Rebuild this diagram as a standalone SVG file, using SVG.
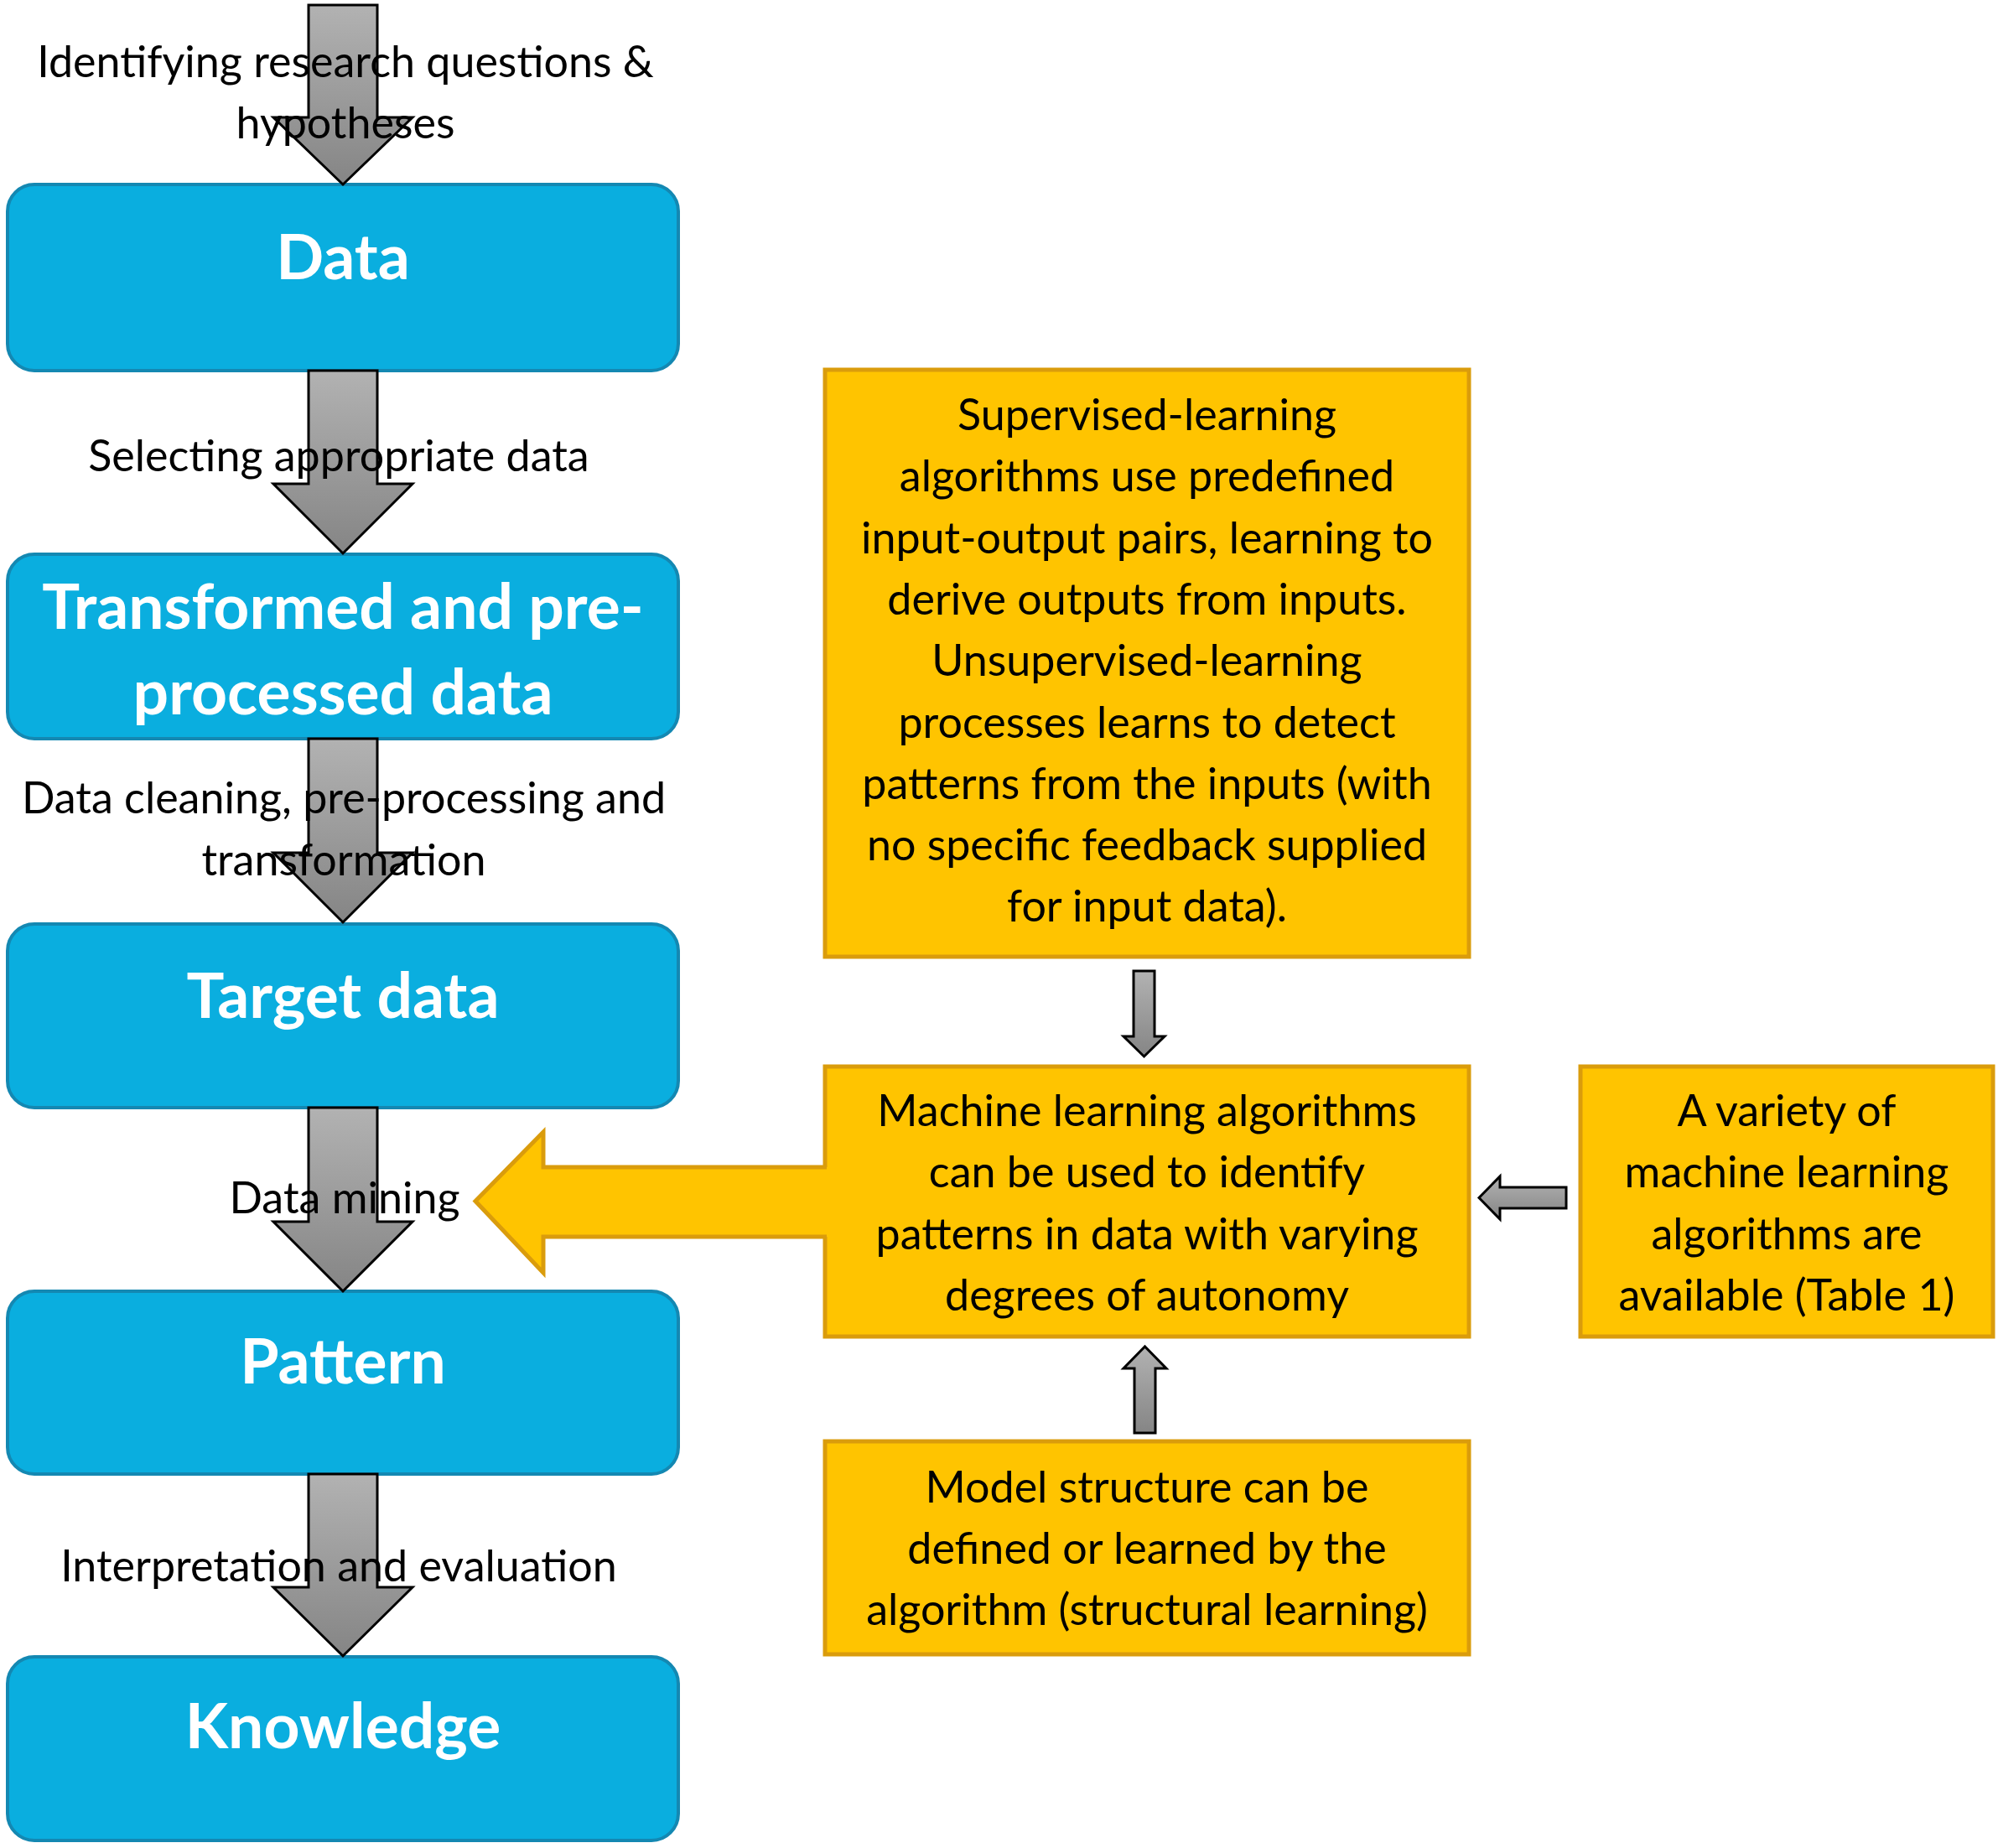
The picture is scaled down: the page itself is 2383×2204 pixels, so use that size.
<svg xmlns="http://www.w3.org/2000/svg" width="2383" height="2204" viewBox="0 0 2383 2204">
<defs>
<linearGradient id="gray" x1="0" y1="0" x2="0" y2="1">
<stop offset="0" stop-color="#B2B2B2"/>
<stop offset="1" stop-color="#858585"/>
</linearGradient>
<style>
.blue{fill:#0AAEDF;stroke:#1488B2;stroke-width:4}
.gold{fill:#FFC400;stroke:#DA9C0C;stroke-width:5}
.garrow{fill:url(#gray);stroke:#000;stroke-width:3;stroke-linejoin:miter}
.title{font-family:Lato,"Liberation Sans",sans-serif;font-weight:bold;font-size:75px;fill:#fff;text-anchor:middle}
.lbl{font-family:Lato,"Liberation Sans",sans-serif;font-size:52px;fill:#000;text-anchor:middle}
</style>
</defs>
<rect width="2383" height="2204" fill="#fff"/>

<g id="node-data"><rect class="blue" x="9" y="220" width="800" height="222" rx="32"/><text class="title" x="409" y="333">Data</text></g>
<g id="node-transformed"><rect class="blue" x="9" y="661" width="800" height="220" rx="32"/><text class="title" x="409" y="750">Transformed and pre-</text><text class="title" x="409" y="852">processed data</text></g>
<g id="node-target"><rect class="blue" x="9" y="1102" width="800" height="219" rx="32"/><text class="title" x="409" y="1214">Target data</text></g>
<g id="node-pattern"><rect class="blue" x="9" y="1540" width="800" height="218" rx="32"/><text class="title" x="409" y="1650">Pattern</text></g>
<g id="node-knowledge"><rect class="blue" x="9" y="1976" width="800" height="219" rx="32"/><text class="title" x="409" y="2085">Knowledge</text></g>

<g id="node-supervised"><rect class="gold" x="984" y="441" width="768" height="700"/>
<text class="lbl" x="1368"><tspan x="1368" y="513">Supervised-learning</tspan><tspan x="1368" y="586">algorithms use predefined</tspan><tspan x="1368" y="660">input-output pairs, learning to</tspan><tspan x="1368" y="733">derive outputs from inputs.</tspan><tspan x="1368" y="806">Unsupervised-learning</tspan><tspan x="1368" y="880">processes learns to detect</tspan><tspan x="1368" y="953">patterns from the inputs (with</tspan><tspan x="1368" y="1026">no specific feedback supplied</tspan><tspan x="1368" y="1099">for input data).</tspan></text></g>

<g id="node-ml"><rect class="gold" x="984" y="1272" width="768" height="322"/>
<text class="lbl" x="1368"><tspan x="1368" y="1343">Machine learning algorithms</tspan><tspan x="1368" y="1416">can be used to identify</tspan><tspan x="1368" y="1490">patterns in data with varying</tspan><tspan x="1368" y="1563">degrees of autonomy</tspan></text></g>

<g id="node-variety"><rect class="gold" x="1885" y="1272" width="492" height="322"/>
<text class="lbl" x="2131"><tspan x="2131" y="1343">A variety of</tspan><tspan x="2131" y="1416">machine learning</tspan><tspan x="2131" y="1490">algorithms are</tspan><tspan x="2131" y="1563">available (Table 1)</tspan></text></g>

<g id="node-structure"><rect class="gold" x="984" y="1719" width="768" height="254"/>
<text class="lbl" x="1368"><tspan x="1368" y="1792">Model structure can be</tspan><tspan x="1368" y="1865">defined or learned by the</tspan><tspan x="1368" y="1938">algorithm (structural learning)</tspan></text></g>

<g id="connectors">
<path class="garrow" d="M368,6 H450 V140 H492 L409,220 L326,140 H368 Z"/>
<path class="garrow" d="M368,442 H450 V577 H492 L409,660 L326,577 H368 Z"/>
<path class="garrow" d="M368,881 H450 V1017 H492 L409,1100 L326,1017 H368 Z"/>
<path class="garrow" d="M368,1321 H450 V1457 H492 L409,1540 L326,1457 H368 Z"/>
<path class="garrow" d="M368,1758 H450 V1893 H492 L409,1975 L326,1893 H368 Z"/>

<path class="garrow" d="M1352,1158 H1377 V1236 H1389 L1364.5,1260 L1340,1236 H1352 Z"/>
<path class="garrow" d="M1353,1709 H1378 V1632 H1391 L1365.5,1606 L1340,1632 H1353 Z"/>
<path class="garrow" d="M1868,1416 V1441 H1789 V1454 L1764,1428.5 L1789,1403 V1416 Z"/>

<path d="M988,1392 H648 V1350 L567,1432.5 L648,1518 V1475 H988 Z" fill="#FFC400"/>
<path d="M986,1392 H648 V1350 L567,1432.5 L648,1518 V1475 H986" fill="none" stroke="#DA9C0C" stroke-width="5"/>

<text class="lbl"><tspan x="412" y="92">Identifying research questions &amp;</tspan><tspan x="412" y="165">hypotheses</tspan></text>
<text class="lbl" x="404" y="562">Selecting appropriate data</text>
<text class="lbl"><tspan x="410" y="970">Data cleaning, pre-processing and</tspan><tspan x="410" y="1044">transformation</tspan></text>
<text class="lbl" x="411" y="1447">Data mining</text>
<text class="lbl" x="404" y="1886">Interpretation and evaluation</text>
</g>
</svg>
